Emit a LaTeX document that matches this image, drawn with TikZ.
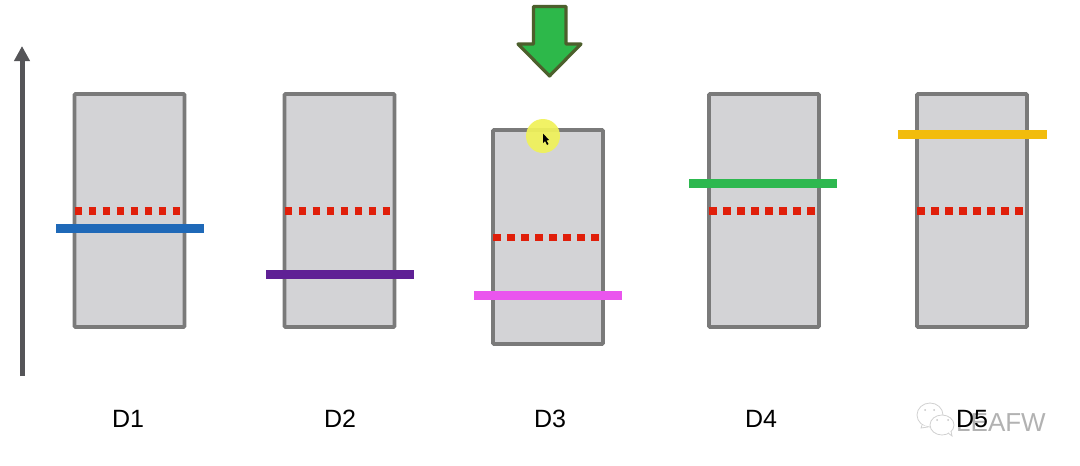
\documentclass[tikz,border=0pt]{standalone}
\usepackage{fontspec}
\setmainfont{Liberation Sans}
\usetikzlibrary{arrows.meta}
\definecolor{boxfill}{HTML}{D3D3D6}
\definecolor{boxline}{HTML}{7A7A7A}
\definecolor{reddash}{HTML}{E01E0A}
\definecolor{axisgray}{HTML}{555558}
\definecolor{arrowgreen}{HTML}{2DB84A}
\definecolor{arrowedge}{HTML}{4C5F2C}
\definecolor{barblue}{HTML}{1F69B8}
\definecolor{barpurple}{HTML}{5F2095}
\definecolor{barpink}{HTML}{EA55EE}
\definecolor{bargreen}{HTML}{2DB84F}
\definecolor{baryellow}{HTML}{F2BC0C}
\definecolor{markyellow}{HTML}{F0F25A}
\tikzset{
  column/.style={draw=boxline,fill=boxfill,line width=3.8pt,rounded corners=1pt,
    minimum width=110pt,minimum height=#1,inner sep=0pt,outer sep=0pt},
  redline/.style={draw=reddash,line width=7.5pt,dash pattern=on 7.5pt off 6.5pt},
  levelbar/.style={line width=9pt,preaction={draw=black,draw opacity=.14,transform canvas={yshift=-1.5pt}}},
  caption/.style={font=\fontsize{25}{30}\selectfont,text=black,inner sep=0pt},
  wmbubble/.style={draw=black!18,fill=white,line width=.8pt}
}
\begin{document}
\begin{tikzpicture}[x=1pt,y=-1pt]
\useasboundingbox (0,0) rectangle (1080,466);
\fill[white] (0,0) rectangle (1080,466);
% axis
\coordinate (axb) at (22,376);
\coordinate (axt) at (22,46);
\draw[axisgray,line width=5pt,-{Triangle[length=15pt,width=15pt]}] (axb) -- (axt);
% green arrow
\draw[arrowedge,fill=arrowgreen,line width=3.2pt,line join=round]
  (533.5,6.5) -- (566,6.5) -- (566,44) -- (581,44) -- (549.5,76) -- (518,44) -- (533.5,44) -- cycle;
% columns
\node[column=233pt] (c1) at (129.5,210.5) {};
\node[column=233pt] (c2) at (339.5,210.5) {};
\node[column=214pt] (c3) at (548,237) {};
\node[column=233pt] (c4) at (764,210.5) {};
\node[column=233pt] (c5) at (972,210.5) {};
% red dashed lines
\foreach \i in {1,...,5}{
  \coordinate (r\i a) at ([xshift=-55pt,yshift=-0.3pt]c\i.center);
  \coordinate (r\i b) at ([xshift=52pt,yshift=-0.3pt]c\i.center);
  \draw[redline] (r\i a) -- (r\i b);
}
% level bars
\draw[levelbar,barblue]   (56,228) -- (204,228);
\draw[levelbar,barpurple] (266,274) -- (414,274);
\draw[levelbar,barpink]   (474,295.5) -- (622,295.5);
\draw[levelbar,bargreen]  (689,183.5) -- (837,183.5);
\draw[levelbar,baryellow] (898,134) -- (1047,134);
% pointer highlight
\fill[markyellow,opacity=.93] (543,136) circle (17pt);
\fill[black] (543,133.5) -- (543,143) -- (545,141) -- (547,145) -- (548.5,144) -- (546.5,140.5) -- (549,140) -- cycle;
% watermark
\draw[wmbubble] (930,415) ellipse (13pt and 12pt);
\draw[wmbubble] (922,425) -- (921,428) -- (928,427);
\draw[wmbubble] (942,425) ellipse (12pt and 10pt);
\draw[wmbubble] (948,433) -- (952,436) -- (951,431);
\fill[black!22] (925,410) circle (1pt) (934,410) circle (1pt) (937,420) circle (1pt) (948,420) circle (1pt);
\node[anchor=base west,inner sep=0pt,text=black!30,font=\fontsize{26}{30}\selectfont] (wm) at (956,431) {LEAFW};
% captions
\node[caption] (l1) at (128,419) {D1};
\node[caption] (l2) at (340,419) {D2};
\node[caption] (l3) at (550,419) {D3};
\node[caption] (l4) at (761,419) {D4};
\node[caption] (l5) at (972,419) {D5};
\end{tikzpicture}
\end{document}
